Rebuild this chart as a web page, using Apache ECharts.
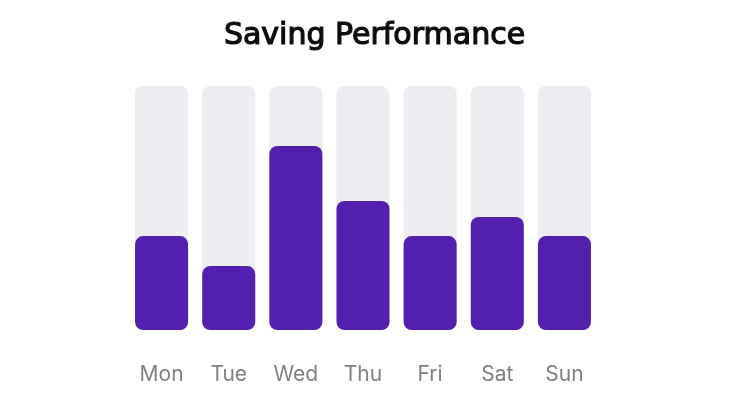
<!DOCTYPE html>
<html>
<head>
<meta charset="utf-8">
<style>html,body{margin:0;padding:0;background:#fff;}#c{width:751px;height:393px;}</style>
<script src="https://cdn.jsdelivr.net/npm/echarts@6/dist/echarts.min.js"></script>
</head>
<body>
<div id="c"></div>
<script>
const categories = ['Mon', 'Tue', 'Wed', 'Thu', 'Fri', 'Sat', 'Sun'];
const savings = [38.5, 26.2, 75.4, 52.9, 38.5, 46.3, 38.5];
const chartTitle = 'Saving Performance';

const chart = echarts.init(document.getElementById('c'));
chart.setOption({
  animation: false,
  title: {
    text: chartTitle,
    left: 369.5,
    textAlign: 'center',
    top: 16,
    textStyle: { fontFamily: 'DejaVu Sans', fontSize: 30, fontWeight: 'normal', color: '#0d0d0d', textBorderColor: '#0d0d0d', textBorderWidth: 1.2 }
  },
  grid: { left: 128, right: 153, top: 86, bottom: 63 },
  xAxis: {
    type: 'category',
    data: categories,
    axisLine: { show: false },
    axisTick: { show: false },
    axisLabel: { color: '#808080', fontFamily: 'Inter', fontSize: 21, margin: 34 }
  },
  yAxis: {
    type: 'value',
    min: 0,
    max: 100,
    show: false
  },
  series: [{
    type: 'bar',
    data: savings,
    barWidth: '79%',
    showBackground: true,
    backgroundStyle: { color: '#EDEDF2', borderRadius: 8 },
    itemStyle: { color: '#531FAF', borderRadius: 8 }
  }]
});
</script>
</body>
</html>
